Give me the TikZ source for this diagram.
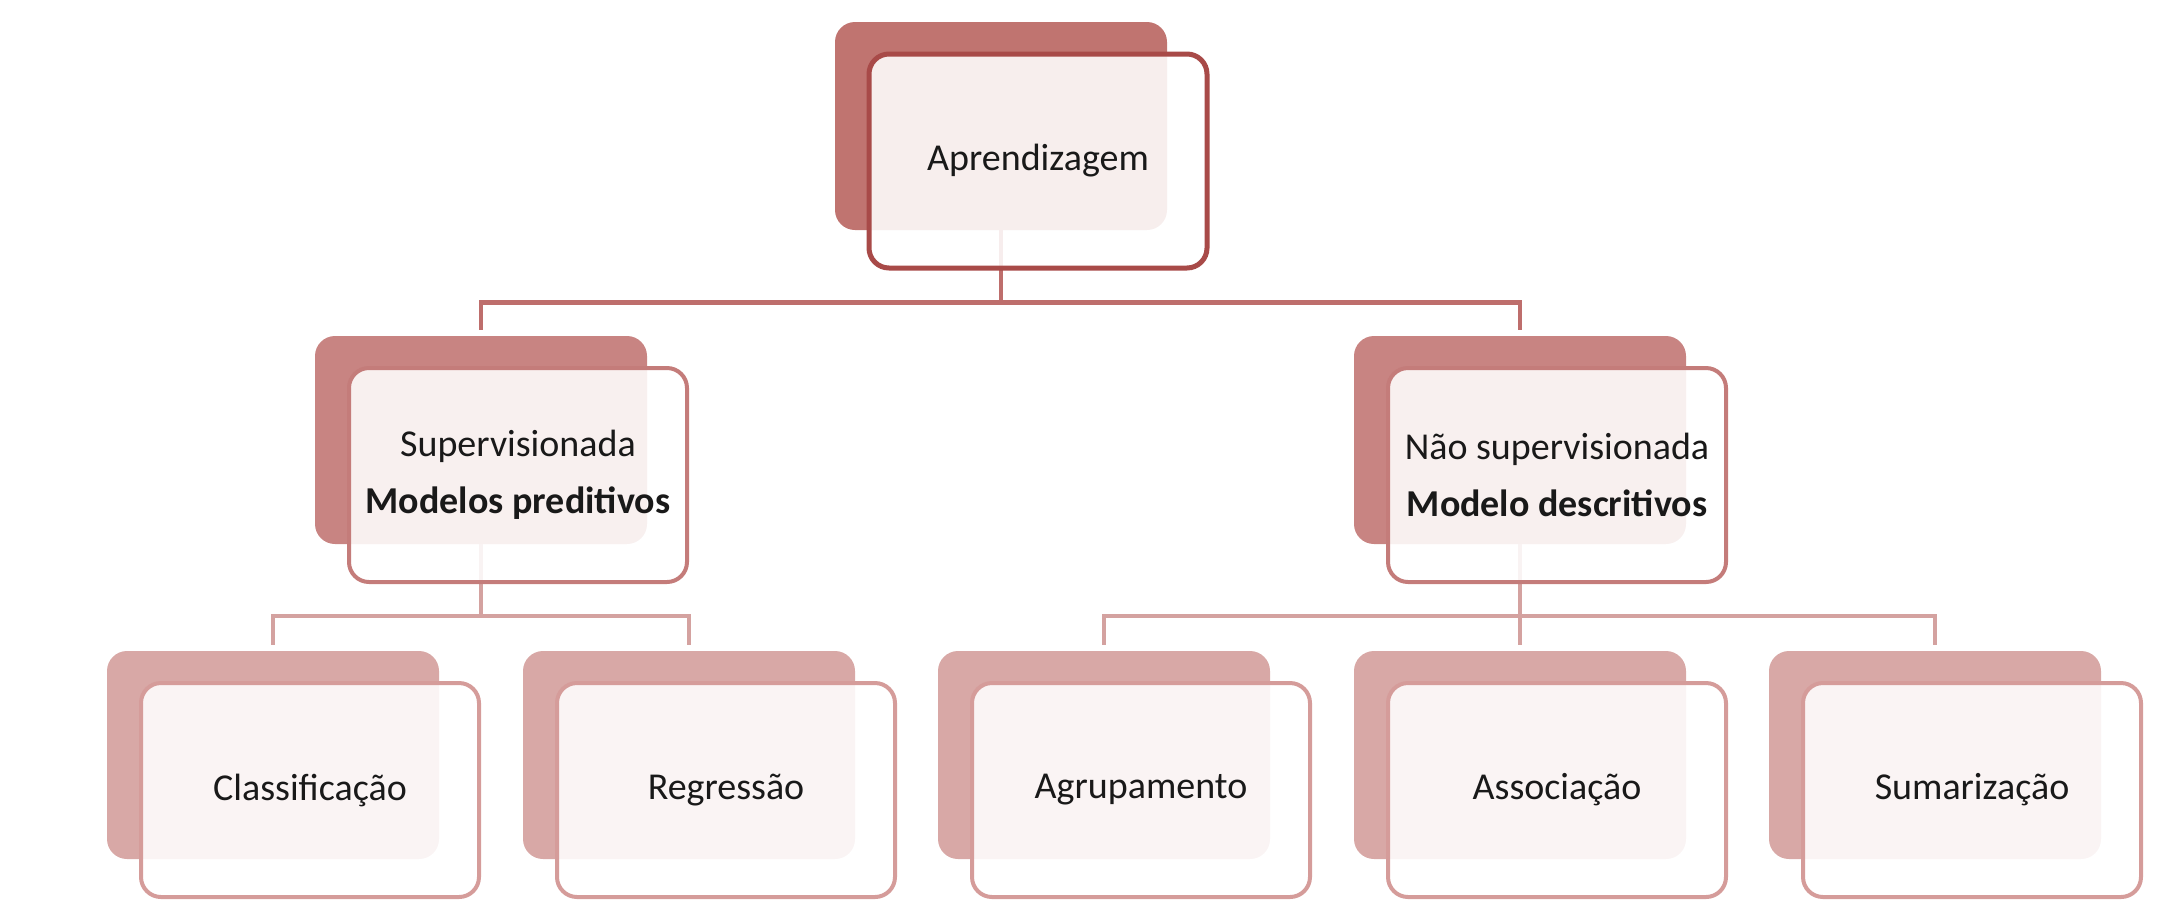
\documentclass[tikz,border=0pt]{standalone}
\usepackage{fontspec}
\setmainfont{Carlito}
\usetikzlibrary{positioning}
\definecolor{topback}{HTML}{C07470}
\definecolor{topline}{HTML}{A84A48}
\definecolor{midback}{HTML}{C88482}
\definecolor{midline}{HTML}{C47C7A}
\definecolor{lowback}{HTML}{D8A8A6}
\definecolor{lowline}{HTML}{D59C9A}
\definecolor{toplink}{HTML}{BE6E6C}
\definecolor{midlink}{HTML}{D4A2A0}
\begin{document}
\begin{tikzpicture}[x=0.5pt, y=-0.5pt,
    backbox/.style={fill=#1, rounded corners=10pt, minimum width=166pt, minimum height=104pt, inner sep=0pt},
    frontbox/.style={draw=#1, fill=white, fill opacity=0.88, text opacity=1, text=black!90,
      rounded corners=10pt, minimum width=169pt, minimum height=107pt, inner sep=0pt,
      align=center, font=\fontsize{19}{28.5}\selectfont},
    link/.style={draw=#1, line width=2pt}]

        \useasboundingbox (0,0) rectangle (2164,912);

        % Back boxes
        \node[backbox=topback] (learnb) at (1001,126) {};
        \node[backbox=midback] (supb) at (481,440) {};
        \node[backbox=midback] (unsupb) at (1520,440) {};
        \node[backbox=lowback] (classb) at (273,755) {};
        \node[backbox=lowback] (regb) at (689,755) {};
        \node[backbox=lowback] (groupb) at (1104,755) {};
        \node[backbox=lowback] (assocb) at (1520,755) {};
        \node[backbox=lowback] (sumb) at (1935,755) {};

        % Connectors
        \coordinate[below=36pt of learnb.south] (learnbar);
        \coordinate[below=36pt of supb.south] (supbar);
        \coordinate[below=36pt of unsupb.south] (unsupbar);
        \draw[link=toplink, line width=2.4pt] (learnb.south) -- (learnbar);
        \draw[link=toplink, line width=2.4pt] ([yshift=3pt]supb.north) |- (learnbar) -| ([yshift=3pt]unsupb.north);
        \draw[link=midlink] (supb.south) -- (supbar);
        \draw[link=midlink] ([yshift=3pt]classb.north) |- (supbar) -| ([yshift=3pt]regb.north);
        \draw[link=midlink] (unsupb.south) -- (unsupbar);
        \draw[link=midlink] ([yshift=3pt]groupb.north) |- (unsupbar) -| ([yshift=3pt]sumb.north);
        \draw[link=midlink] (unsupbar) -- ([yshift=3pt]assocb.north);

        % Front boxes
        \node[frontbox=topline, line width=2.5pt] (learn) at ([shift={(37,35)}]learnb.center) {Aprendizagem};
        \node[frontbox=midline, line width=2pt] (sup) at ([shift={(37,35)}]supb.center) {Supervisionada\\\textbf{Modelos preditivos}};
        \node[frontbox=midline, line width=2pt] (unsup) at ([shift={(37,35)}]unsupb.center) {Não supervisionada\\\textbf{Modelo descritivos}};
        \node[frontbox=lowline, line width=2pt] (class) at ([shift={(37,35)}]classb.center) {Classificação};
        \node[frontbox=lowline, line width=2pt] (reg) at ([shift={(37,35)}]regb.center) {Regressão};
        \node[frontbox=lowline, line width=2pt] (group) at ([shift={(37,35)}]groupb.center) {Agrupamento};
        \node[frontbox=lowline, line width=2pt] (assoc) at ([shift={(37,35)}]assocb.center) {Associação};
        \node[frontbox=lowline, line width=2pt] (sum) at ([shift={(37,35)}]sumb.center) {Sumarização};

\end{tikzpicture}
\end{document}
